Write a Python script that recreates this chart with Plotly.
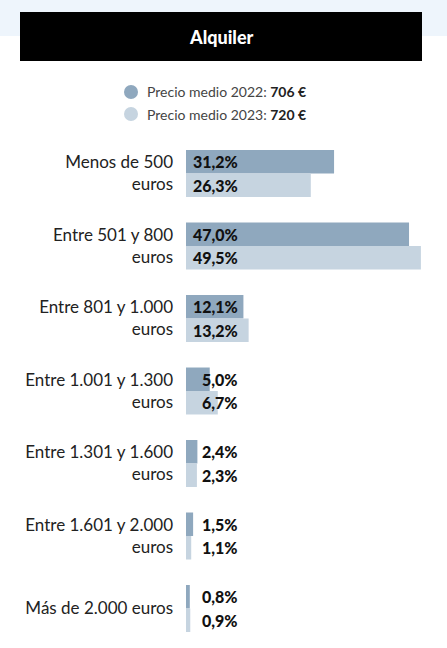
import plotly.graph_objects as go

# Rent distribution by price band, 2022 vs 2023
categories = [
    "Menos de 500<br>euros",
    "Entre 501 y 800<br>euros",
    "Entre 801 y 1.000<br>euros",
    "Entre 1.001 y 1.300<br>euros",
    "Entre 1.301 y 1.600<br>euros",
    "Entre 1.601 y 2.000<br>euros",
    "Más de 2.000 euros",
]
pct_2022 = [31.2, 47.0, 12.1, 5.0, 2.4, 1.5, 0.8]
pct_2023 = [26.3, 49.5, 13.2, 6.7, 2.3, 1.1, 0.9]
years = ["2022", "2023"]
avg_price = [706, 720]

TITLE = "Alquiler"
COLORS = ["#8fa8be", "#c6d4e0"]
FONT = "Lato"
W, H = 447, 648


def fmt(v):
    return f"{v:.1f}".replace(".", ",") + "%"


def px_x(p):
    return p / W


def px_y(p):
    # pixel from top -> paper fraction
    return 1 - p / H


fig = go.Figure()
for series, color, year in zip([pct_2022, pct_2023], COLORS, years):
    fig.add_trace(go.Bar(
        y=categories, x=series, orientation="h",
        marker=dict(color=color, line=dict(width=0)),
        name=year, hoverinfo="skip",
    ))

# value labels, right-aligned in a column next to the axis
annotations = []
for series, shift in zip([pct_2022, pct_2023], [11.75, -11.75]):
    for cat, v in zip(categories, series):
        annotations.append(dict(
            x=11.4, y=cat, xref="x", yref="y", text=fmt(v),
            xanchor="right", yanchor="middle", yshift=shift, showarrow=False,
            font=dict(family=FONT, size=16, color="#111111", weight=900),
        ))

# header
annotations.append(dict(
    x=px_x(221), y=px_y(37), xref="paper", yref="paper",
    text=TITLE, showarrow=False,
    xanchor="center", yanchor="middle",
    font=dict(family=FONT, size=18, color="white", weight=900),
))

shapes = [
    dict(type="rect", xref="paper", yref="paper", x0=0, x1=1,
         y0=px_y(36), y1=1, fillcolor="#eef5fc", line=dict(width=0), layer="below"),
    dict(type="rect", xref="paper", yref="paper", x0=px_x(20), x1=px_x(422),
         y0=px_y(61), y1=px_y(12), fillcolor="black", line=dict(width=0), layer="below"),
]

# legend: circles + text
for i, (year, price, color) in enumerate(zip(years, avg_price, COLORS)):
    cy = 92 + 22 * i
    shapes.append(dict(
        type="circle", xref="paper", yref="paper",
        x0=px_x(124), x1=px_x(138), y0=px_y(cy + 7), y1=px_y(cy - 7),
        fillcolor=color, line=dict(width=0),
    ))
    annotations.append(dict(
        x=px_x(145), y=px_y(cy), xref="paper", yref="paper",
        text=f"Precio medio {year}: <b style='color:#222'>{price} €</b>",
        showarrow=False, xanchor="left", yanchor="middle",
        font=dict(family=FONT, size=14, color="#444444"),
    ))

fig.update_layout(
    width=W, height=H,
    margin=dict(l=0, r=0, t=0, b=0),
    paper_bgcolor="white", plot_bgcolor="white",
    barmode="group", bargap=0.352, bargroupgap=0,
    showlegend=False,
    xaxis=dict(range=[0, 55], domain=[186 / W, 1], visible=False, fixedrange=True),
    yaxis=dict(
        domain=[px_y(644.75), px_y(137.25)],
        autorange="reversed", showgrid=False, zeroline=False, showline=False,
        ticks="", ticklabelstandoff=12,
        tickfont=dict(family=FONT, size=17, color="#222222"),
        fixedrange=True,
    ),
    annotations=annotations,
    shapes=shapes,
)

fig.write_html("out.html", config={"displayModeBar": False},
               post_script="document.body.style.margin='0';")
